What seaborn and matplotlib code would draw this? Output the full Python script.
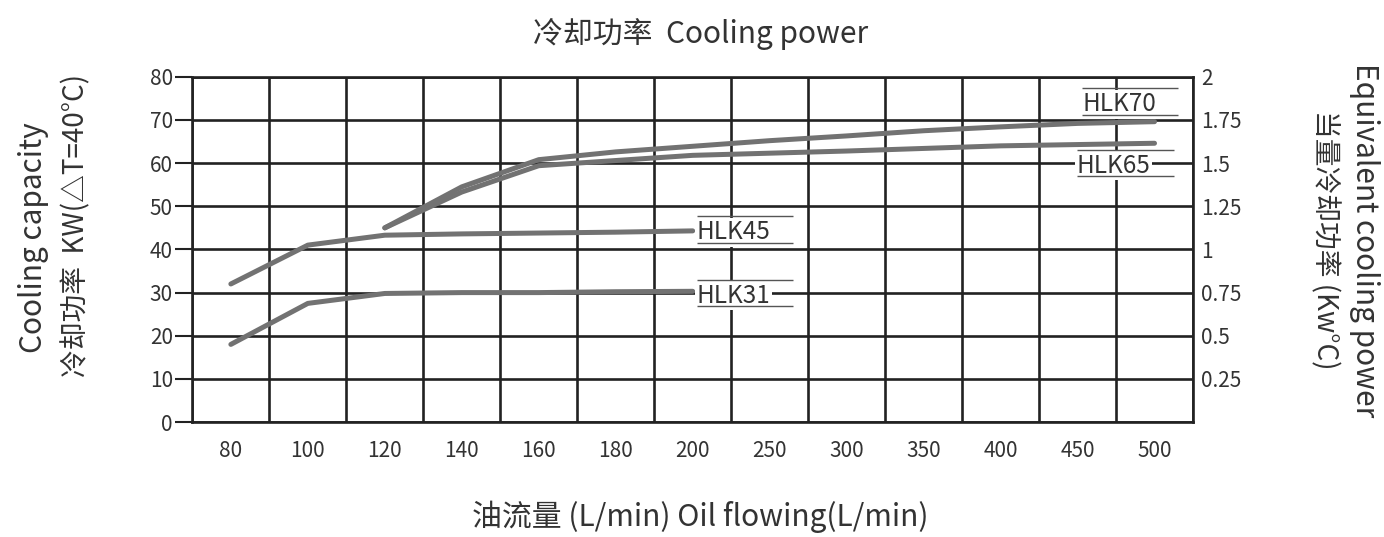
import matplotlib
matplotlib.use('Agg')
import matplotlib.pyplot as plt
import numpy as np
import pandas as pd
import seaborn as sns

# oil flow categories (L/min), evenly spaced on the chart
flow = ['80', '100', '120', '140', '160', '180', '200', '250', '300', '350', '400', '450', '500']

# cooling power (KW)
hlk31_flow = ['80', '100', '120', '140', '160', '180', '200']
hlk31 = [18, 27.5, 29.8, 30, 30, 30.2, 30.3]
hlk45_flow = ['80', '100', '120', '140', '160', '180', '200']
hlk45 = [32, 41, 43.3, 43.6, 43.8, 44, 44.3]
hlk65_flow = ['120', '140', '160', '180', '200', '250', '300', '350', '400', '450', '500']
hlk65 = [45, 53.3, 59.4, 60.6, 61.8, 62.3, 62.8, 63.4, 64, 64.3, 64.6]
hlk70_flow = ['120', '140', '160', '180', '200', '250', '300', '350', '400', '450', '500']
hlk70 = [45, 54.5, 60.8, 62.6, 63.9, 65.2, 66.3, 67.5, 68.4, 69.2, 69.6]

right_ticks = [0.25, 0.5, 0.75, 1, 1.25, 1.5, 1.75, 2]
right_labels = ['0.25', '0.5', '0.75', '1', '1.25', '1.5', '1.75', '2']

rows = []
for model, fl, vals in [('HLK31', hlk31_flow, hlk31), ('HLK45', hlk45_flow, hlk45),
                        ('HLK65', hlk65_flow, hlk65), ('HLK70', hlk70_flow, hlk70)]:
    for f, v in zip(fl, vals):
        rows.append({'model': model, 'flow': f, 'pos': flow.index(f), 'kw': v})
df = pd.DataFrame(rows)

sns.set_style('white')
plt.rcParams['font.family'] = ['Noto Sans CJK SC', 'DejaVu Sans']
text_col = '#333333'

fig = plt.figure(figsize=(13.84, 5.37), dpi=100)
ax = fig.add_axes([0.139, 0.214, 0.723, 0.643])

line_col = '#727272'
sns.lineplot(data=df, x='pos', y='kw', hue='model', palette={m: line_col for m in df['model'].unique()},
             linewidth=3.6, legend=False, ax=ax, estimator=None, sort=False, zorder=3)

ax.set_xlim(-0.5, 12.5)
ax.set_ylim(0, 80)
ax.set_xticks(range(len(flow)))
ax.set_xticklabels(flow, fontsize=15, color=text_col)
ax.set_xticks(np.arange(-0.5, len(flow), 1), minor=True)
ax.set_yticks(range(0, 81, 10))
ax.set_yticklabels([str(v) for v in range(0, 81, 10)], fontsize=15, color=text_col)
ax.tick_params(axis='x', which='major', length=0, pad=13)
ax.tick_params(axis='x', which='minor', length=5, width=1.5, color='#222222')
ax.tick_params(axis='y', length=12, width=1.5, color='#222222', pad=2)
ax.set_xlabel('')
ax.set_ylabel('')
ax.grid(which='minor', axis='x', color='#222222', lw=1.9)
ax.grid(which='major', axis='y', color='#222222', lw=1.9)
ax.grid(which='major', axis='x', visible=False)
ax.set_axisbelow(True)
for s in ax.spines.values():
    s.set_color('#222222')
    s.set_linewidth(1.9)

ax2 = ax.twinx()
ax2.set_ylim(0, 2)
ax2.set_yticks(right_ticks)
ax2.set_yticklabels(right_labels, fontsize=15, color=text_col)
ax2.tick_params(axis='y', length=0, pad=6)
for s in ax2.spines.values():
    s.set_visible(False)

# curve labels with white box and over/under lines
labels = [('HLK31', 6.05, 29.3, 7.3), ('HLK45', 6.05, 44.0, 7.3),
          ('HLK70', 11.06, 73.6, 12.3), ('HLK65', 10.99, 59.4, 12.25)]
for name, x0, y0, x1 in labels:
    ax.text(x0, y0, name, fontsize=17.5, va='center', ha='left', zorder=4, color=text_col,
            bbox=dict(facecolor='white', edgecolor='none', pad=1.0))
    ax.hlines([y0 + 3.7, y0 - 2.5], x0, x1, color='#555555', lw=1, zorder=5)

fig.text(0.506, 0.937, '冷却功率  Cooling power', fontsize=21.5, ha='center', va='center', color=text_col)
fig.text(0.506, 0.037, '油流量 (L/min) Oil flowing(L/min)', fontsize=21.5, ha='center', va='center', color=text_col)
fig.text(0.055, 0.58, '冷却功率  KW(△T=40°C)', fontsize=20, rotation=90, ha='center', va='center', color=text_col)
fig.text(0.024, 0.557, 'Cooling capacity', fontsize=21.5, rotation=90, ha='center', va='center', color=text_col)
fig.text(0.986, 0.553, 'Equivalent cooling power', fontsize=21.5, rotation=270, ha='center', va='center', color=text_col)
fig.text(0.957, 0.553, '当量冷却功率 (Kw°C)', fontsize=20, rotation=270, ha='center', va='center', color=text_col)

fig.savefig('out.png', dpi=100)
